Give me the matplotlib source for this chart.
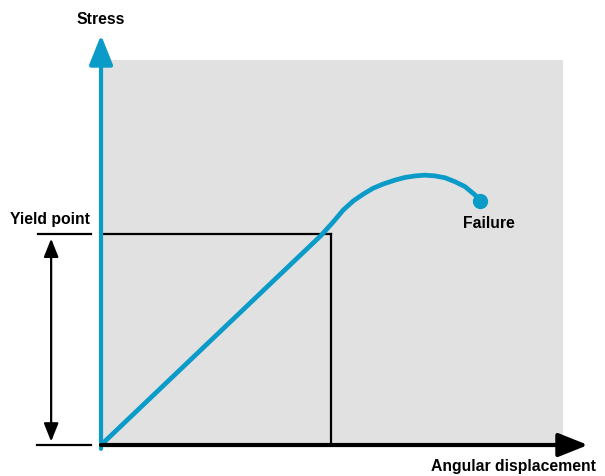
import matplotlib
matplotlib.use("Agg")
import matplotlib.pyplot as plt

# stress-strain curve (0-100 scale on both axes)
displacement = [0, 47.6, 50.3, 52.4, 54.6, 56.8, 58.9, 61.1, 63.6,
                65.8, 68.0, 70.1, 72.3, 74.5, 76.6, 78.8, 81.0, 82.0]
stress = [0, 54.4, 58.0, 61.0, 63.4, 65.2, 66.7, 67.8, 68.8,
          69.5, 69.9, 70.1, 69.9, 69.4, 68.4, 67.1, 64.9, 63.4]

yield_x = 49.7
yield_y = 54.8

blue = "#0a9bc8"

plt.rcParams["font.family"] = ["Liberation Sans", "DejaVu Sans"]

fig = plt.figure(figsize=(6.05, 4.76), dpi=100)
ax = fig.add_axes([0.167, 0.0651, 0.7636, 0.8088])
ax.set_facecolor("#e1e1e1")
ax.set_xlim(0, 100)
ax.set_ylim(0, 100)
for s in ax.spines.values():
    s.set_visible(False)
ax.set_xticks([])
ax.set_yticks([])

# yield point guide lines
ax.plot([0, yield_x], [yield_y, yield_y], color="black", lw=1.6)
ax.plot([yield_x, yield_x], [0, yield_y], color="black", lw=1.6)

# the curve and failure point
ax.plot(displacement, stress, color=blue, lw=3.4, solid_capstyle="round",
        solid_joinstyle="round")
ax.plot(displacement[-1], stress[-1], "o", color=blue, markersize=10)

# axes with arrows
ax.annotate("", xy=(0, 106.5), xytext=(0, -1), annotation_clip=False,
            arrowprops=dict(arrowstyle="-|>,head_length=1.0,head_width=0.4",
                            mutation_scale=18, color=blue, lw=3,
                            shrinkA=0, shrinkB=0))
ax.annotate("", xy=(105.4, 0), xytext=(0, 0), annotation_clip=False,
            arrowprops=dict(arrowstyle="-|>,head_length=1.0,head_width=0.4",
                            mutation_scale=18, color="black", lw=3,
                            shrinkA=0, shrinkB=0))

# yield height marker on the left
ax.plot([-13.6, -2.1], [yield_y, yield_y], color="black", lw=1.6, clip_on=False)
ax.plot([-13.8, -2.1], [0, 0], color="black", lw=1.6, clip_on=False)
ax.annotate("", xy=(-10.8, 53.6), xytext=(-10.8, 0.9), annotation_clip=False,
            arrowprops=dict(arrowstyle="<|-|>,head_length=1.0,head_width=0.4",
                            mutation_scale=11, color="black", lw=1.6,
                            shrinkA=0, shrinkB=0))

ax.text(0, 110.5, "Stress", ha="center", va="center", fontsize=11.3,
        fontweight="bold")
ax.text(-2.4, 58.6, "Yield point", ha="right", va="center", fontsize=11.3,
        fontweight="bold")
ax.text(84.0, 57.6, "Failure", ha="center", va="center", fontsize=11.3,
        fontweight="bold")
ax.text(107.2, -5.5, "Angular displacement", ha="right", va="center",
        fontsize=11.3, fontweight="bold")

fig.savefig("out.png", dpi=100)
